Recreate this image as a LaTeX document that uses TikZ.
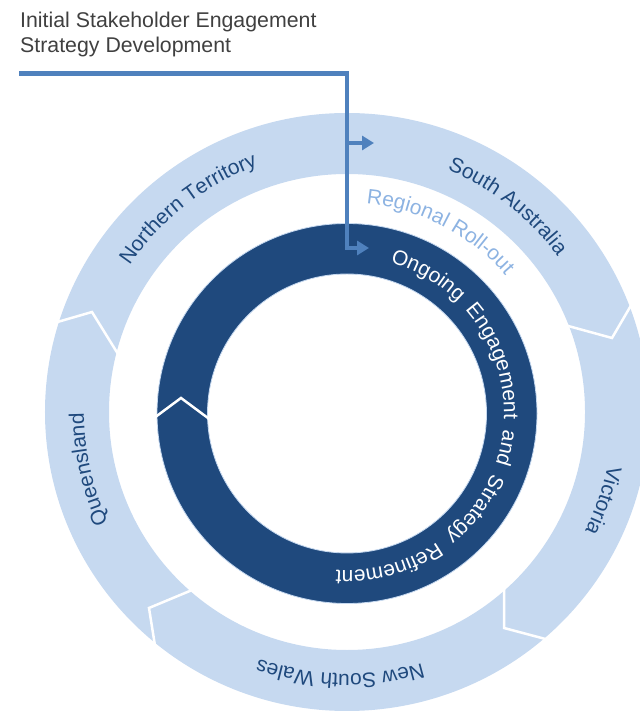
\documentclass[tikz,border=0pt]{standalone}
\usepackage{fontspec}
\setmainfont{Liberation Sans}
\usetikzlibrary{decorations.text, arrows.meta, calc}
\definecolor{ringlight}{HTML}{C6D9F0}
\definecolor{ringdark}{HTML}{1F497D}
\definecolor{flowblue}{HTML}{4F81BD}
\definecolor{rollout}{HTML}{8DB3E2}
\definecolor{titlegray}{HTML}{404040}
\newcommand\lblfont{\fontsize{21}{25}\selectfont\color{ringdark}}
\newcommand\rollfont{\fontsize{21}{25}\selectfont\color{rollout}}
\newcommand\innerfont{\fontsize{21}{25}\selectfont\color{white}}
\begin{document}
\begin{tikzpicture}[x=1bp,y=1bp,
  flow/.style={draw=flowblue, line width=4.5bp, line join=miter, -{Triangle[length=12bp,width=14bp]}},
  sep/.style={draw=white, line width=2.5bp, line join=miter},
  ringtext/.style={decorate, decoration={text along path, text align=center, text={#1}}},
  fittext/.style={decorate, decoration={text along path, text align=fit to path stretching spaces, text={#1}}},
  titletext/.style={anchor=base west, inner sep=0pt, font=\fontsize{21.4}{25}\selectfont, text=titlegray}
]
\useasboundingbox (0,0) rectangle (640,711);
\clip (0,0) rectangle (640,711);
\coordinate (C) at (347,299);
\coordinate (D) at (347,297.5);

% outer light ring
\fill[ringlight, even odd rule] (C) circle[x radius=302bp, y radius=299bp] (C) circle[radius=238bp];
% separators (chevrons) of the outer ring
\coordinate (s1o) at (54,388);  \coordinate (s1a) at (92,399);  \coordinate (s1i) at (118,357);
\coordinate (s2o) at (633,409); \coordinate (s2a) at (612,373); \coordinate (s2i) at (566,385.6);
\coordinate (s3o) at (547.7,71.4); \coordinate (s3a) at (504,83); \coordinate (s3i) at (504,128);
\coordinate (s4o) at (156,59);  \coordinate (s4a) at (149,103); \coordinate (s4i) at (192.4,121.1);
\draw[sep] (s1o) -- (s1a) -- (s1i);
\draw[sep] (s2o) -- (s2a) -- (s2i);
\draw[sep] (s3o) -- (s3a) -- (s3i);
\draw[sep] (s4o) -- (s4a) -- (s4i);

% inner dark ring
\fill[ringdark, even odd rule] (D) circle[radius=190bp] (D) circle[radius=139.5bp];
\draw[ringlight, line width=0.8bp] (D) circle[radius=190bp] (D) circle[radius=139.5bp];
\coordinate (d1o) at (150,290); \coordinate (d1a) at (181,313); \coordinate (d1i) at (212,290);
\draw[sep] (d1o) -- (d1a) -- (d1i);

% title
\node[titletext] (title1) at (20,683) {Initial Stakeholder Engagement};
\node[titletext] (title2) at (20,658) {Strategy Development};

% flow connector
\coordinate (tstart) at (19,637.5);
\coordinate (corner) at (347,637.5);
\coordinate (turn) at (347,463);
\coordinate (end2) at (369,463);
\coordinate (branch) at (347,568);
\coordinate (end1) at (374,568);
\draw[flow] (tstart) -- (corner) -- (turn) -- (end2);
\draw[flow] (branch) -- (end1);

% ring labels
\path[ringtext={|\lblfont|Northern Territory}] ([shift={(173:262bp)}]C) arc[start angle=173, end angle=83, radius=262bp];
\path[ringtext={|\lblfont|South Australia}] ([shift={(97:262bp)}]C) arc[start angle=97, end angle=7, radius=262bp];
\path[ringtext={|\lblfont|Queensland}] ([shift={(237.5:263bp)}]C) arc[start angle=237.5, end angle=147.5, radius=263bp];
\path[ringtext={|\lblfont|Victoria}] ([shift={(26:266bp)}]C) arc[start angle=26, end angle=-64, radius=266bp];
\path[ringtext={|\lblfont|New South Wales}] ([shift={(-46.5:262bp)}]C) arc[start angle=-46.5, end angle=-136.5, radius=262bp];
\path[ringtext={|\rollfont|Regional Roll-out}] ([shift={(112.7:209bp)}]C) arc[start angle=112.7, end angle=12.7, radius=209bp];
\path[fittext={|\innerfont|Ongoing Engagement and Strategy Refinement}] ([shift={(74:157bp)}]D) arc[start angle=74, end angle=-94, radius=157bp];
\end{tikzpicture}
\end{document}
